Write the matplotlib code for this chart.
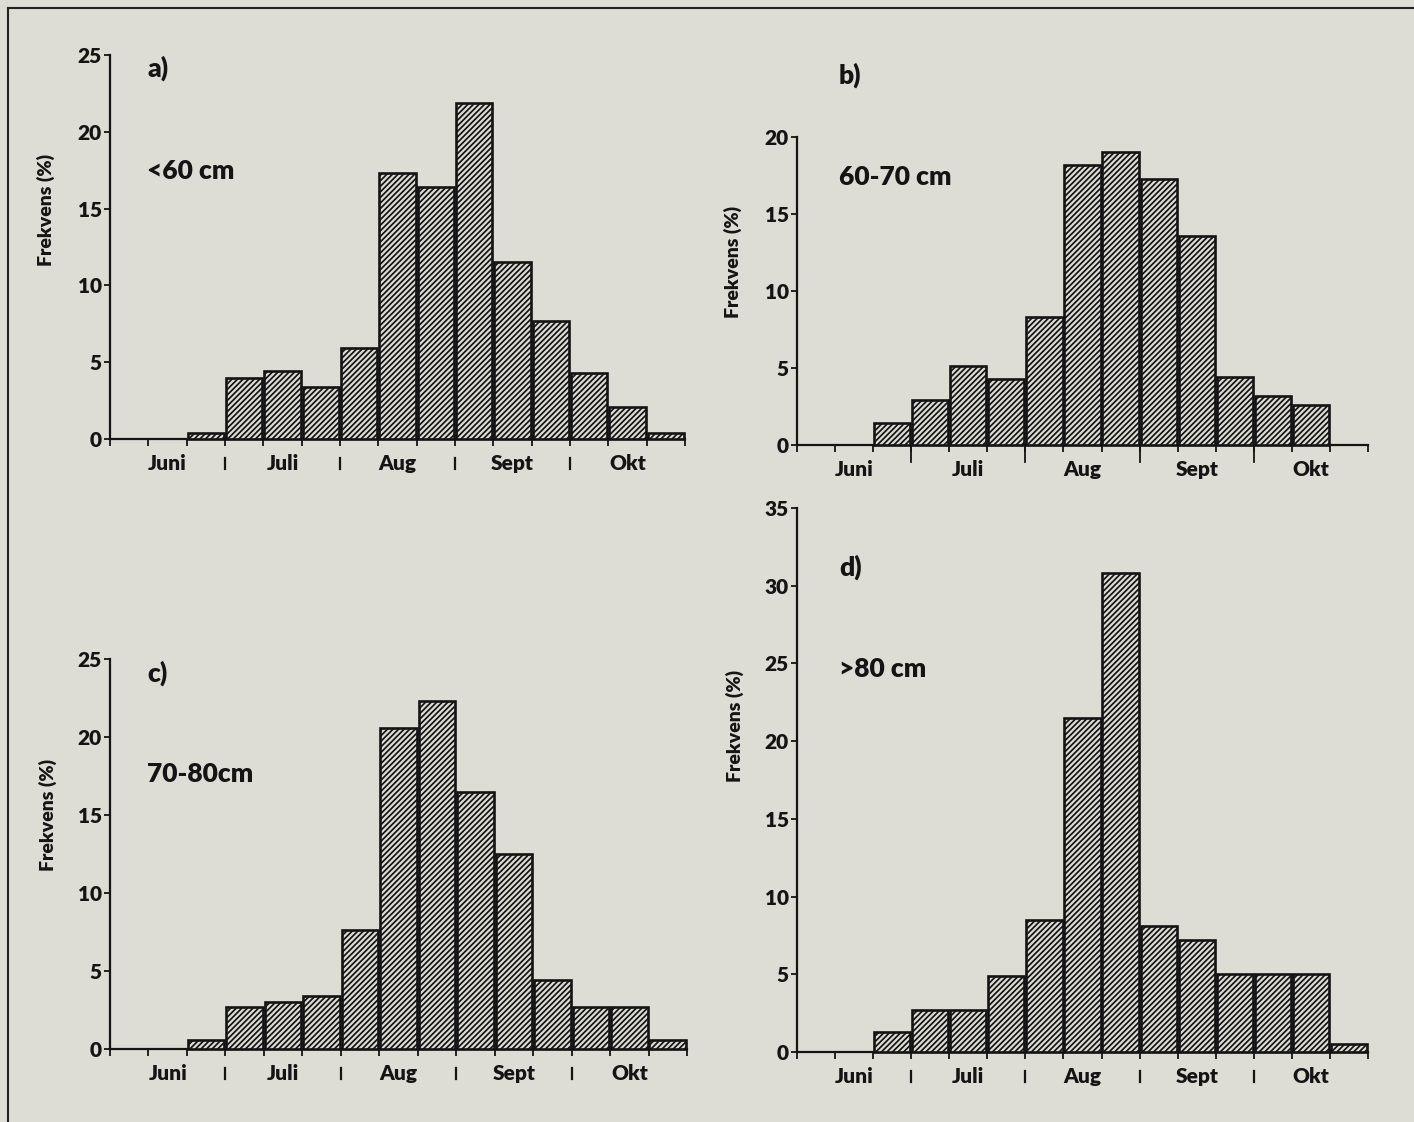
import matplotlib
matplotlib.use("Agg")
import matplotlib.pyplot as plt
from matplotlib.lines import Line2D
import numpy as np

plt.rcParams['font.family'] = ['Lato', 'DejaVu Sans']
plt.rcParams['hatch.linewidth'] = 1.25
plt.rcParams['hatch.color'] = '#1a1a1a'

months = ["Juni", "Juli", "Aug", "Sept", "Okt"]

# frequency (%) per 10-day period, 3 periods per month, Juni..Okt
small = [0, 0, 0.4, 4.0, 4.4, 3.4, 5.9, 17.3, 16.4, 21.9, 11.5, 7.7, 4.3, 2.1, 0.4]
mid = [0, 0, 1.4, 2.9, 5.1, 4.3, 8.3, 18.2, 19.0, 17.3, 13.6, 4.4, 3.2, 2.6, 0]
large = [0, 0, 0.6, 2.7, 3.0, 3.4, 7.6, 20.6, 22.3, 16.5, 12.5, 4.4, 2.7, 2.7, 0.6]
xlarge = [0, 0, 1.3, 2.7, 2.7, 4.9, 8.5, 21.5, 30.8, 8.1, 7.2, 5.0, 5.0, 5.0, 0.5]

panels = [
    # values, tag, size label, ymax, axes rect (px: left, y0, right, ytop), long month ticks
    (small, "a)", "<60 cm", 25, (110, 439, 685, 55), False),
    (mid, "b)", "60-70 cm", 20, (797, 445, 1368, 137), True),
    (large, "c)", "70-80cm", 25, (110, 1049, 687, 659), False),
    (xlarge, "d)", ">80 cm", 35, (797, 1052, 1368, 508), False),
]
tag_pos = [(147, 68, 147, 171), (839, 75, 839, 177), (147, 673, 147, 774), (839, 567, 839, 669)]
ylab_pos = [(46, 210), (733, 262), (48, 815), (735, 726)]

W, H = 1414, 1122
bg = "#dddcd5"
ink = "#141414"
fig = plt.figure(figsize=(W / 100, H / 100), dpi=100, facecolor=bg)

edges = np.arange(16)
gap = 0.05
for i, (vals, tag, lab, ymax, (x0, y0, x1, y1), long_ticks) in enumerate(panels):
    ax = fig.add_axes([x0 / W, 1 - y0 / H, (x1 - x0) / W, (y0 - y1) / H])
    ax.patch.set_alpha(0)
    vals = np.array(vals)
    nz = vals > 0
    ax.bar(edges[:-1][nz] + gap / 2, vals[nz], width=1 - gap, align="edge", facecolor=bg,
           edgecolor=ink, linewidth=1.9, hatch="//////", clip_on=False, zorder=3)
    ax.set_xlim(0, 15)
    ax.set_ylim(0, ymax)
    for s in ["top", "right"]:
        ax.spines[s].set_visible(False)
    for s in ["left", "bottom"]:
        ax.spines[s].set_linewidth(1.6)
        ax.spines[s].set_color(ink)
    ax.set_yticks(np.arange(0, ymax + 1, 5))
    ax.tick_params(axis="y", length=4, width=1.3, labelsize=15, pad=2, colors=ink)
    ax.set_xticks(edges)
    ax.set_xticklabels([])
    ax.tick_params(axis="x", which="major", length=5, width=1.3, colors=ink)
    ax.set_xticks(np.arange(1.5, 15, 3), minor=True)
    ax.set_xticklabels(months, minor=True, fontsize=15, fontweight="heavy")
    ax.tick_params(axis="x", which="minor", length=0, pad=11, labelcolor=ink)
    trans = ax.get_xaxis_transform()
    hpx = y0 - y1
    for b in [3, 6, 9, 12]:
        if long_ticks:
            ax.plot([b, b], [0, -17 / hpx], transform=trans, color=ink,
                    lw=1.3, clip_on=False)
        else:
            ax.plot([b, b], [-19 / hpx, -30 / hpx], transform=trans, color=ink,
                    lw=1.6, clip_on=False)
    for t in ax.get_yticklabels():
        t.set_fontweight("heavy")
    tx, ty, lx, ly = tag_pos[i]
    fig.text(tx / W, 1 - ty / H, tag, fontsize=19, fontweight="heavy",
             va="center", ha="left", color=ink)
    fig.text(lx / W, 1 - ly / H, lab, fontsize=19, fontweight="heavy",
             va="center", ha="left", color=ink)
    yx, yy = ylab_pos[i]
    fig.text(yx / W, 1 - yy / H, "Frekvens (%)", rotation=90,
             fontsize=14, fontweight="heavy", va="center", ha="center", color=ink)

# frame
fig.add_artist(Line2D([8 / W, 8 / W], [0, 1 - 8 / H], transform=fig.transFigure,
                      color="#222222", lw=1.5))
fig.add_artist(Line2D([8 / W, 1], [1 - 8 / H, 1 - 8 / H], transform=fig.transFigure,
                      color="#222222", lw=1.5))

fig.savefig("out.png", dpi=100, facecolor=bg)
